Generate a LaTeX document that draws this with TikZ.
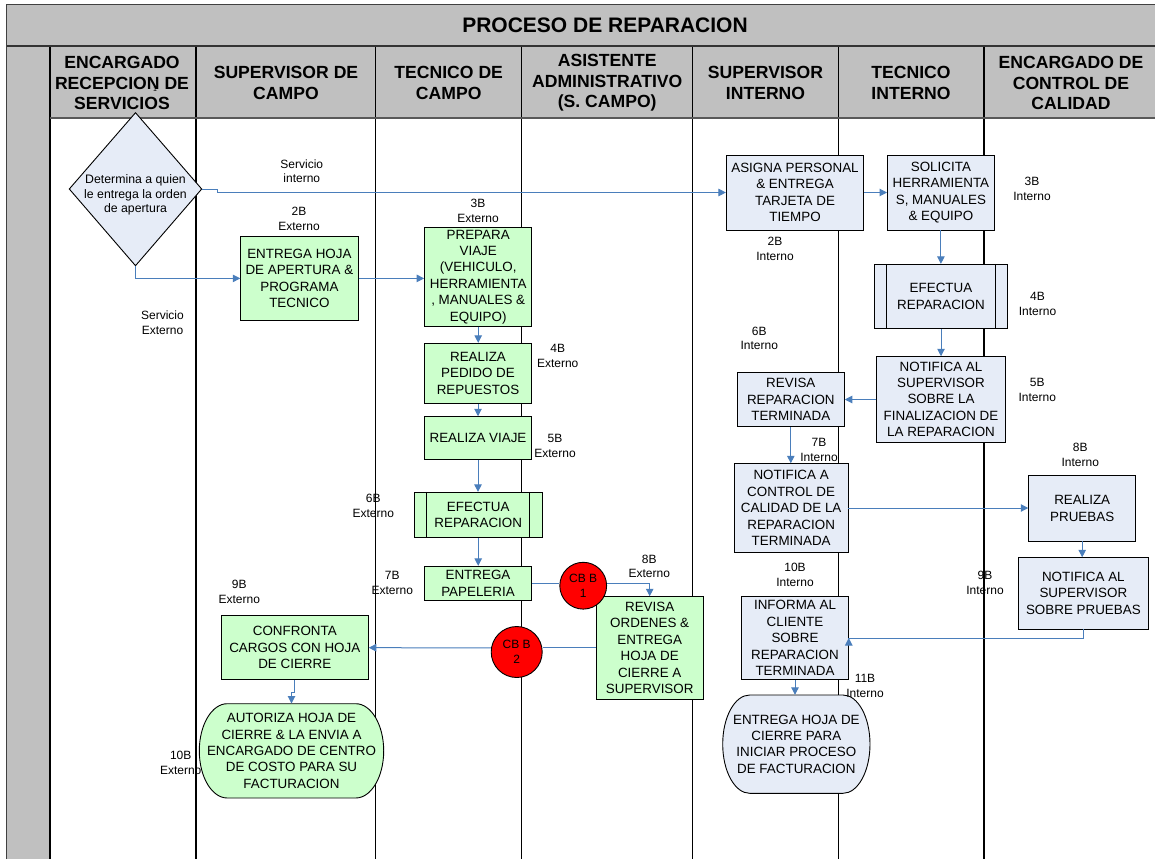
\documentclass[tikz,border=0pt]{standalone}
\usepackage{fontspec}
\setmainfont{Liberation Sans}
\usetikzlibrary{arrows.meta}
\definecolor{hdrgray}{HTML}{C0C0C0}
\definecolor{gfill}{HTML}{CCFFCC}
\definecolor{bfill}{HTML}{E6ECF7}
\definecolor{flow}{HTML}{4A7EBB}
\definecolor{framegray}{HTML}{404040}
\begin{document}
\begin{tikzpicture}[x=1pt,y=-1pt,
  lane/.style={line width=1.2pt, black},
  sz/.style 2 args={minimum width=#1pt, minimum height=#2pt},
  box/.style={draw=black, line width=0.9pt, align=center, inner sep=0pt,
              font=\fontsize{13.4}{16.4}\selectfont},
  gbox/.style={box, fill=gfill},
  bbox/.style={box, fill=bfill},
  shapetext/.style={align=center, inner sep=0pt, font=\fontsize{13.4}{16.4}\selectfont},
  termshape/.style={draw=black, line width=0.9pt},
  numlbl/.style={align=center, inner sep=0pt, font=\fontsize{12}{14.8}\selectfont},
  hdr/.style={align=center, inner sep=0pt, font=\fontsize{17.6}{20.6}\selectfont\bfseries},
  cb/.style={circle, draw=black, line width=0.9pt, fill=red, align=center, inner sep=0pt,
             font=\fontsize{12}{14.5}\selectfont},
  flowline/.style={draw=flow, line width=1pt},
  arr/.style={flowline, -{Triangle[length=7.5pt,width=7.5pt]}},
]
\useasboundingbox (0,0) rectangle (1155,859);

% ---- swimlane frame ----
\fill[hdrgray] (6.5,4.5) rectangle (1155,118);
\fill[hdrgray] (6.5,4.5) rectangle (50,859);
\foreach \lx in {50,196,375.7,521.7,692.7,838.3,984}
  \draw[lane] (\lx,46) -- (\lx,859);
\draw[line width=2.2pt, color=black!65] (50,118) -- (1155,118);
\draw[line width=1.8pt, color=black!80] (6.5,46) -- (1155,46);
\draw[line width=1.5pt, color=framegray] (6.5,859) -- (6.5,4.5) -- (1155,4.5);

\node[hdr, font=\fontsize{21}{24}\selectfont\bfseries] (title) at (605,25) {PROCESO DE REPARACION};
\node[hdr] (h1) at (122,83) {ENCARGADO\\RECEPCION DE\\SERVICIOS};
\node[hdr] (h2) at (286,83) {SUPERVISOR DE\\CAMPO};
\node[hdr] (h3) at (448.7,83) {TECNICO DE\\CAMPO};
\node[hdr] (h4) at (607.2,83) {ASISTENTE\\ADMINISTRATIVO\\(S. CAMPO)};
\node[hdr] (h5) at (765.5,83) {SUPERVISOR\\INTERNO};
\node[hdr] (h6) at (911,83) {TECNICO\\INTERNO};
\node[hdr] (h7) at (1071,83) {ENCARGADO DE\\CONTROL DE\\CALIDAD};
\node[inner sep=0pt, font=\fontsize{7}{8}\selectfont] (mark) at (155,89) {1};

% ---- decision ----
\draw[line width=0.9pt, fill=bfill]
  (135.5,112.7) coordinate (dmT) -- (201.7,189) coordinate (dmR)
  -- (135.5,265.7) coordinate (dmB) -- (69.3,189) coordinate (dmL) -- cycle;
\node[align=center, inner sep=0pt, font=\fontsize{12.3}{14.8}\selectfont] (dm) at (135.5,195)
  {Determina a quien\\le entrega la orden\\de apertura};

% ---- external service (green) ----
\node[gbox, sz={117.3}{83.3}] (eh) at (299.4,278.4) {ENTREGA HOJA\\DE APERTURA \&\\PROGRAMA\\TECNICO};
\node[gbox, sz={107.2}{98.3}] (pv) at (478.2,276.9) {PREPARA\\VIAJE\\(VEHICULO,\\HERRAMIENTA\\, MANUALES \&\\EQUIPO)};
\node[gbox, sz={107.4}{60}] (pp) at (478,373.3) {REALIZA\\PEDIDO DE\\REPUESTOS};
\node[gbox, sz={107.4}{42.6}] (rv) at (478,438) {REALIZA VIAJE};
\node[gbox, sz={128.3}{45}] (efg) at (478.2,514.8) {EFECTUA\\REPARACION};
\draw[line width=0.9pt] ([xshift=13.3pt]efg.north west) -- ([xshift=13.3pt]efg.south west);
\draw[line width=0.9pt] ([xshift=-13.3pt]efg.north east) -- ([xshift=-13.3pt]efg.south east);
\node[gbox, sz={107.4}{34}] (pap) at (478,583.3) {ENTREGA\\PAPELERIA};
\node[gbox, sz={107.3}{102.3}] (ro) at (649.7,647.85) {REVISA\\ORDENES \&\\ENTREGA\\HOJA DE\\CIERRE A\\SUPERVISOR};
\node[gbox, sz={147}{64}] (cf) at (294.8,647.7) {CONFRONTA\\CARGOS CON HOJA\\DE CIERRE};
\draw[termshape, fill=gfill]
  (227.3,703.7) -- (355.7,703.7)
  .. controls (371.16,703.7) and (383.7,724.81) .. (383.7,750.85)
  .. controls (383.7,776.89) and (371.16,798) .. (355.7,798)
  -- (227.3,798)
  .. controls (211.84,798) and (199.3,776.89) .. (199.3,750.85)
  .. controls (199.3,724.81) and (211.84,703.7) .. (227.3,703.7) -- cycle;
\node[shapetext, sz={184.4}{94.3}] (au) at (291.5,750.85)
  {AUTORIZA HOJA DE\\CIERRE \& LA ENVIA A\\ENCARGADO DE CENTRO\\DE COSTO PARA SU\\FACTURACION};

\node[cb, minimum size=46.8pt] (cb1) at (583.2,585.7) {CB B\\1};
\node[cb, minimum size=51pt] (cb2) at (516.7,652) {CB B\\2};

% ---- internal service (blue) ----
\node[bbox, sz={137.3}{75}] (asg) at (795,192.5) {ASIGNA PERSONAL\\\& ENTREGA\\TARJETA DE\\TIEMPO};
\node[bbox, sz={106.9}{75}] (sol) at (940.9,192.5) {SOLICITA\\HERRAMIENTA\\S, MANUALES\\\& EQUIPO};
\node[bbox, sz={132.7}{64}] (efb) at (941,296.3) {EFECTUA\\REPARACION};
\draw[line width=0.9pt] ([xshift=12.7pt]efb.north west) -- ([xshift=12.7pt]efb.south west);
\draw[line width=0.9pt] ([xshift=-12.7pt]efb.north east) -- ([xshift=-12.7pt]efb.south east);
\node[bbox, sz={128.6}{85.3}] (nas) at (941,399.35) {NOTIFICA AL\\SUPERVISOR\\SOBRE LA\\FINALIZACION DE\\LA REPARACION};
\node[bbox, sz={107}{53.6}] (rrt) at (790.8,399.5) {REVISA\\REPARACION\\TERMINADA};
\node[bbox, sz={113.7}{88.6}] (ncc) at (791.15,508) {NOTIFICA A\\CONTROL DE\\CALIDAD DE LA\\REPARACION\\TERMINADA};
\node[bbox, sz={107}{65.3}] (rp) at (1082.2,508.35) {REALIZA\\PRUEBAS};
\node[bbox, sz={130.7}{71.3}] (nsp) at (1083.35,593.35) {NOTIFICA AL\\SUPERVISOR\\SOBRE PRUEBAS};
\node[bbox, sz={106.6}{82.6}] (inf) at (795,638) {INFORMA AL\\CLIENTE\\SOBRE\\REPARACION\\TERMINADA};
\draw[termshape, fill=bfill]
  (749.7,695) -- (843,695)
  .. controls (857.91,695) and (870,717) .. (870,744.15)
  .. controls (870,771.3) and (857.91,793.3) .. (843,793.3)
  -- (749.7,793.3)
  .. controls (734.79,793.3) and (722.7,771.3) .. (722.7,744.15)
  .. controls (722.7,717) and (734.79,695) .. (749.7,695) -- cycle;
\node[shapetext, sz={147.3}{98.3}] (ehc) at (796.35,744.15)
  {ENTREGA HOJA DE\\CIERRE PARA\\INICIAR PROCESO\\DE FACTURACION};

% ---- step labels ----
\node[numlbl] (lsi) at (301.8,171.3) {Servicio\\interno};
\node[numlbl] (lse) at (162.5,323) {Servicio\\Externo};
\node[numlbl] (l2e) at (299,219.2) {2B\\Externo};
\node[numlbl] (l3e) at (478,210.5) {3B\\Externo};
\node[numlbl] (l4e) at (557.7,356.3) {4B\\Externo};
\node[numlbl] (l5e) at (555,445.8) {5B\\Externo};
\node[numlbl] (l6e) at (373.3,506.2) {6B\\Externo};
\node[numlbl] (l7e) at (392.3,583.3) {7B\\Externo};
\node[numlbl] (l8e) at (649.3,566.3) {8B\\Externo};
\node[numlbl] (l9e) at (239.3,592) {9B\\Externo};
\node[numlbl] (l10e) at (180.7,763.2) {10B\\Externo};
\node[numlbl] (l2i) at (775,249.2) {2B\\Interno};
\node[numlbl] (l3i) at (1032,188.5) {3B\\Interno};
\node[numlbl] (l4i) at (1037.5,304.3) {4B\\Interno};
\node[numlbl] (l5i) at (1037.3,390.2) {5B\\Interno};
\node[numlbl] (l6i) at (759.3,338.3) {6B\\Interno};
\node[numlbl] (l7i) at (819,450) {7B\\Interno};
\node[numlbl] (l8i) at (1080.3,454.7) {8B\\Interno};
\node[numlbl] (l9i) at (985,583) {9B\\Interno};
\node[numlbl] (l10i) at (795,574.7) {10B\\Interno};
\node[numlbl] (l11i) at (865,686.3) {11B\\Interno};

% ---- connectors ----
\draw[arr] (dmR) -- ++(16,0) |- (asg.west);
\draw[arr] (dmB) |- (eh.west);
\draw[arr] (eh.east) -- (eh.east -| pv.west);
\draw[arr] (pv.south) -- (pv.south |- pp.north);
\draw[arr] (pp.south) -- (pp.south |- rv.north);
\draw[arr] (rv.south) -- (rv.south |- efg.north);
\draw[arr] (efg.south) -- (efg.south |- pap.north);
\draw[flowline] (pap.east) -- (pap.east -| cb1.west);
\draw[arr] (pap.east -| cb1.east) -| (ro.north);
\draw[flowline] (ro.west) -- (ro.west -| cb2.east);
\draw[arr] (ro.west -| cb2.west) -- (cf.east);
\draw[arr] (cf.south) -- ++(0,12.3) -| (au.north);

\draw[arr] (asg.east) -- (asg.east -| sol.west);
\draw[arr] (sol.south) -- (sol.south |- efb.north);
\draw[arr] (efb.south) -- (efb.south |- nas.north);
\draw[arr] (rrt.east -| nas.west) -- (rrt.east);
\draw[arr] (rrt.south) -- (rrt.south |- ncc.north);
\draw[arr] (ncc.east) -- (ncc.east -| rp.west);
\draw[arr] (rp.south) -- (rp.south |- nsp.north);
\draw[arr] (nsp.south) -- ++(0,9) -| (inf.east);
\draw[arr] (inf.south) -- (inf.south |- ehc.north);
\end{tikzpicture}
\end{document}
